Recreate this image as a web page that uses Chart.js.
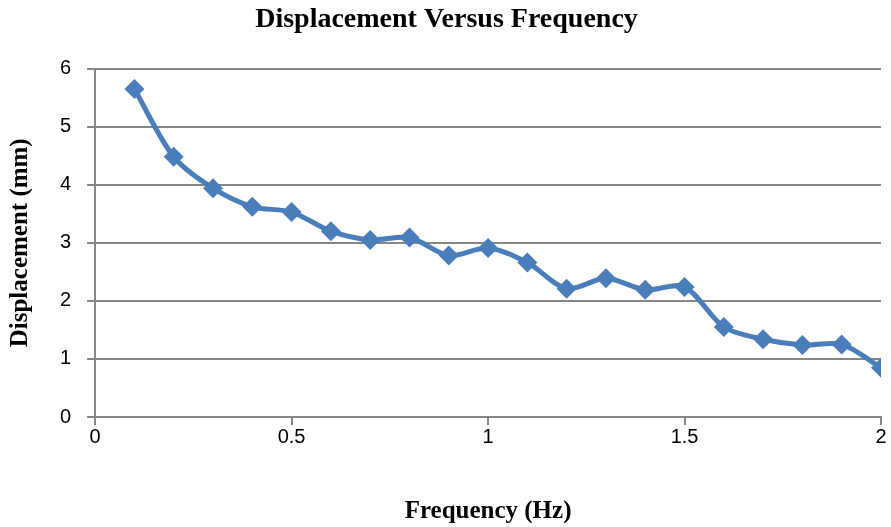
<!DOCTYPE html>
<html>
<head>
<meta charset="utf-8">
<script src="https://cdn.jsdelivr.net/npm/chart.js@4/dist/chart.umd.min.js"></script>
<style>
  html, body { margin: 0; padding: 0; background: #fff; }
  #wrap { width: 891px; height: 527px; }
</style>
</head>
<body>
<div id="wrap"><canvas id="chart" width="891" height="527"></canvas></div>
<script>
// Frequency (Hz) values
const frequency = [0.1, 0.2, 0.3, 0.4, 0.5, 0.6, 0.7, 0.8, 0.9, 1.0,
  1.1, 1.2, 1.3, 1.4, 1.5, 1.6, 1.7, 1.8, 1.9, 2.0];
// Displacement (mm)
const displacement = [5.65, 4.48, 3.94, 3.62, 3.53, 3.20, 3.05, 3.09, 2.78, 2.91,
  2.66, 2.21, 2.39, 2.19, 2.24, 1.55, 1.34, 1.24, 1.25, 0.85];

const LINE_COLOR = "#4A7EBB";
const AXIS_COLOR = "#868686";
const TICK_FONT = { family: "'Liberation Sans', Arial, sans-serif", size: 20 };
const AXIS_TITLE_FONT = { family: "'Liberation Serif', 'Times New Roman', serif", size: 25, weight: "bold" };

const points = frequency.map((f, i) => ({ x: f, y: displacement[i] }));

new Chart(document.getElementById("chart"), {
  type: "scatter",
  data: {
    datasets: [{
      data: points,
      showLine: true,
      borderColor: LINE_COLOR,
      backgroundColor: LINE_COLOR,
      borderWidth: 5,
      tension: 0.3,
      pointStyle: "rectRot",
      pointRadius: 10,
      pointHoverRadius: 10,
      pointBorderWidth: 0,
    }],
  },
  options: {
    responsive: false,
    animation: false,
    layout: { padding: { left: 6, right: 4, top: 0, bottom: 0 } },
    plugins: {
      legend: { display: false },
      tooltip: { enabled: false },
      title: {
        display: true,
        text: "Displacement Versus Frequency",
        color: "#000",
        font: { family: AXIS_TITLE_FONT.family, size: 28, weight: "bold" },
        padding: { top: 3, bottom: 32 },
      },
    },
    scales: {
      x: {
        type: "linear",
        min: 0,
        max: 2,
        ticks: { stepSize: 0.5, color: "#000", font: TICK_FONT, padding: 0, callback: (v) => String(v) },
        grid: { drawOnChartArea: false, color: AXIS_COLOR, lineWidth: 2, tickLength: 8 },
        border: { color: AXIS_COLOR, width: 2 },
        title: { display: true, text: "Frequency (Hz)", color: "#000", font: AXIS_TITLE_FONT, padding: { top: 48, bottom: 0 } },
      },
      y: {
        min: 0,
        max: 6,
        ticks: { stepSize: 1, color: "#000", font: TICK_FONT, padding: 16 },
        grid: { color: AXIS_COLOR, lineWidth: 2, tickLength: 8 },
        border: { color: AXIS_COLOR, width: 2 },
        title: { display: true, text: "Displacement (mm)", color: "#000", font: AXIS_TITLE_FONT, padding: { top: 0, bottom: 8 } },
      },
    },
  },
});
</script>
</body>
</html>
